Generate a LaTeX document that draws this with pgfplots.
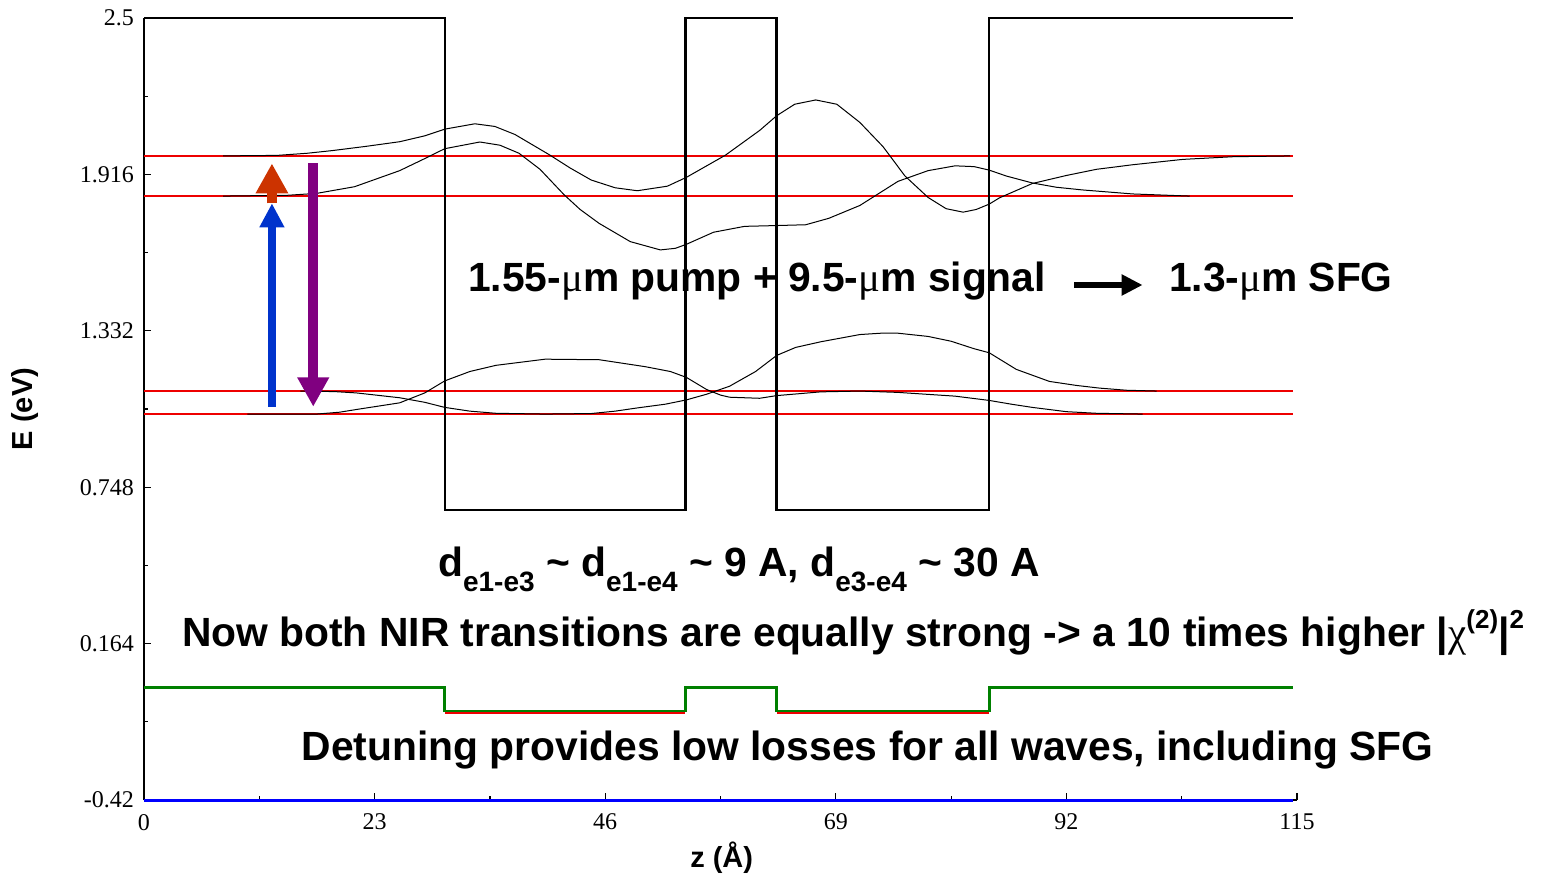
\documentclass[border=0pt]{standalone}
\usepackage{fontspec}
\setmainfont{Liberation Serif}
\newfontfamily\arial{Liberation Sans}
\newfontfamily\tnr{Liberation Serif}
\usepackage{pgfplots}
\pgfplotsset{compat=1.18}
\usetikzlibrary{arrows.meta}
\definecolor{cblue}{HTML}{0033CC}
\definecolor{corange}{HTML}{CC3300}
\definecolor{cpurple}{HTML}{800080}
\definecolor{cgreen}{HTML}{008000}
\definecolor{cred}{HTML}{EE0000}
\definecolor{lblue}{HTML}{0000FF}
\newcommand{\mutxt}{{\tnr\mdseries μ}}
\newcommand{\sub}[1]{\raisebox{-7.5pt}{\fontsize{14}{14}\selectfont #1}}
\newcommand{\sups}[1]{\raisebox{9pt}{\fontsize{13}{13}\selectfont #1}}
\newcommand{\bigtxt}{\arial\bfseries\fontsize{20.4}{24}\selectfont}
\begin{document}
\begin{tikzpicture}
\useasboundingbox (0,0) rectangle (770.5pt,436.5pt);
\begin{axis}[
  at={(72pt,36.5pt)}, anchor=south west,
  scale only axis, width=576.5pt, height=391pt,
  xmin=0, xmax=115, ymin=-0.42, ymax=2.5,
  axis x line=bottom, axis y line=left,
  axis line style={-, line width=0.7pt, black},
  tick align=inside,
  major tick length=3.5pt, minor tick length=2pt,
  every tick/.style={black, line width=0.6pt},
  xtick={0,23,46,69,92,115},
  minor xtick={11.5,34.5,57.5,80.5,103.5},
  ytick={-0.42,0.164,0.748,1.332,1.916,2.5},
  yticklabels={-0.42,0.164,0.748,1.332,1.916,2.5},
  minor ytick={-0.128,0.456,1.04,1.624,2.208},
  /pgf/number format/assume math mode=true,
  every tick label/.append style={font=\tnr\fontsize{12}{14}\selectfont},
  xticklabel style={yshift=-3.5pt},
  yticklabel style={xshift=-1.5pt},
  xlabel={z (Å)}, ylabel={E (eV)},
  every axis label/.append style={font=\arial\bfseries\fontsize{14.5}{16}\selectfont},
  xlabel style={at={(axis description cs:0.501,-0.074)}, anchor=center},
  ylabel style={at={(axis description cs:-0.103,0.5)}, anchor=center, rotate=0},
  clip=false,
]
% energy levels
\addplot[cred, line width=0.75pt] coordinates {(0,1.985)(114.6,1.985)};
\addplot[cred, line width=0.75pt] coordinates {(0,1.835)(114.6,1.835)};
\addplot[cred, line width=0.75pt] coordinates {(0,1.107)(114.6,1.107)};
\addplot[cred, line width=0.75pt] coordinates {(0,1.021)(114.6,1.021)};
% wavefunctions
\addplot[black, line width=0.5pt] coordinates {(7.9,1.985)(13.3,1.987)(16.3,1.995)(18.8,2.005)(22,2.02)(25.5,2.038)(28,2.06)(30.0,2.085)(33.0,2.105)(35,2.095)(37.0,2.065)(40.4,1.99)(42.5,1.94)(44.6,1.895)(47,1.866)(49.2,1.855)(52.2,1.872)(54.1,1.905)(58.0,1.988)(61.4,2.08)(63.1,2.135)(64.9,2.178)(67.0,2.194)(69.1,2.178)(71.4,2.11)(73.7,2.02)(75.9,1.91)(78.2,1.83)(80,1.788)(81.7,1.775)(83,1.785)(84.3,1.805)(85.3,1.828)(88.6,1.882)(92.0,1.912)(95,1.935)(98.6,1.952)(103.6,1.972)(108.6,1.982)(114.3,1.985)};
\addplot[black, line width=0.5pt] coordinates {(7.9,1.835)(14.3,1.838)(17.2,1.845)(21,1.87)(25.5,1.93)(28,1.975)(30.0,2.012)(33.5,2.037)(35.5,2.025)(37.4,1.995)(39.5,1.935)(41.9,1.840)(43.5,1.785)(45.4,1.733)(48.5,1.665)(51.5,1.634)(53,1.64)(54.1,1.655)(56.8,1.700)(59.9,1.722)(63.1,1.725)(66.0,1.728)(68.3,1.752)(71.4,1.800)(75.2,1.890)(78.2,1.930)(80.9,1.948)(82.8,1.945)(84.3,1.932)(86,1.91)(88.6,1.884)(91,1.868)(93.6,1.858)(98.6,1.843)(103.6,1.836)(104.3,1.835)};
\addplot[black, line width=0.5pt] coordinates {(15.6,1.107)(19,1.105)(21.2,1.100)(25.5,1.082)(28,1.065)(30.0,1.046)(32.5,1.032)(35.1,1.024)(40,1.021)(44.6,1.023)(47,1.032)(49.2,1.044)(52,1.058)(54.1,1.074)(56.1,1.095)(58.4,1.125)(61,1.18)(63.1,1.240)(65,1.27)(67.5,1.291)(71.4,1.318)(73.5,1.323)(75.2,1.323)(78.2,1.311)(80.5,1.293)(82.8,1.265)(84.3,1.250)(87.0,1.188)(90.3,1.143)(93,1.128)(95.3,1.118)(98,1.110)(101,1.107)};
\addplot[black, line width=0.5pt] coordinates {(10.3,1.021)(17.2,1.021)(19.5,1.028)(21.5,1.040)(25.5,1.063)(28,1.100)(30.0,1.145)(32.5,1.180)(35.1,1.203)(40.0,1.226)(45.4,1.224)(50.0,1.198)(52.5,1.180)(54.1,1.158)(56.1,1.113)(57.5,1.092)(58.4,1.084)(61.4,1.080)(63.1,1.090)(67.5,1.104)(71.4,1.107)(75.2,1.102)(80.9,1.088)(84.3,1.072)(86.5,1.058)(88.6,1.046)(92.0,1.030)(95,1.024)(99.6,1.021)};
% conduction band potential
\addplot[black, line width=1.25pt] coordinates {(0,2.5)(30,2.5)(30,0.663)(54,0.663)(54,2.5)(63.1,2.5)(63.1,0.663)(84.3,0.663)(84.3,2.5)(114.6,2.5)};
% lower profiles
\addplot[cred, line width=1.2pt] coordinates {(30,-0.094)(54,-0.094)};
\addplot[cred, line width=1.2pt] coordinates {(63.1,-0.094)(84.3,-0.094)};
\addplot[cgreen, line width=1.4pt] coordinates {(0,0.0)(30,0.0)(30,-0.088)(54,-0.088)(54,0.0)(63.1,0.0)(63.1,-0.088)(84.3,-0.088)(84.3,0.0)(114.6,0.0)};
\addplot[lblue, line width=1.5pt] coordinates {(0,-0.42)(114.6,-0.42)};
% transition arrows
\addplot[cblue, line width=4pt, -{Triangle[width=11.7pt,length=12pt]}] coordinates {(12.76,1.0485)(12.76,1.808)};
\addplot[corange, line width=5pt, -{Triangle[width=15.3pt,length=15pt]}] coordinates {(12.76,1.808)(12.76,1.957)};
\addplot[cpurple, line width=5pt, -{Triangle[width=15pt,length=14.7pt]}] coordinates {(16.88,1.957)(16.88,1.0485)};
\addplot[black, line width=3pt, -{Triangle[width=10pt,length=10.5pt]}] coordinates {(92.8,1.503)(99.6,1.503)};
% texts
\node[anchor=base west, inner sep=0pt, font=\bigtxt] at (axis cs:32.3,1.477) {1.55-\mutxt m pump + 9.5-\mutxt m signal};
\node[anchor=base west, inner sep=0pt, font=\bigtxt] at (axis cs:102.2,1.477) {1.3-\mutxt m SFG};
\node[anchor=base west, inner sep=0pt, font=\bigtxt] at (axis cs:29.3,0.414) {d\sub{e1-e3} \textasciitilde{} d\sub{e1-e4} \textasciitilde{} 9 A, d\sub{e3-e4} \textasciitilde{} 30 A};
\node[anchor=base west, inner sep=0pt, font=\bigtxt] at (axis cs:3.76,0.155) {Now both NIR transitions are equally strong -> a 10 times higher |{\tnr\mdseries χ}\sups{(2)}|\sups{2}};
\node[anchor=base west, inner sep=0pt, font=\bigtxt] at (axis cs:15.7,-0.274) {Detuning provides low losses for all waves, including SFG};
\end{axis}
\end{tikzpicture}
\end{document}
